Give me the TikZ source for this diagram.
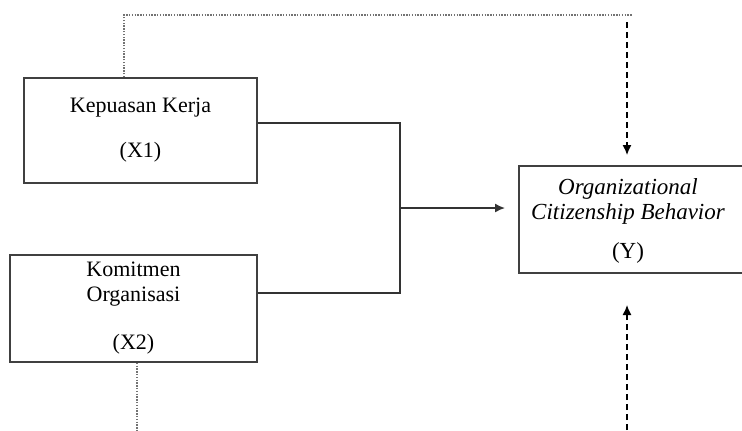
\documentclass[tikz,border=0pt]{standalone}
\usepackage{fontspec}
\setmainfont{Liberation Serif}
\usetikzlibrary{arrows.meta}
\tikzset{
  box/.style={draw=black!75, line width=0.75pt, align=center, inner sep=0pt,
    font=\fontsize{11}{12.5}\selectfont},
  link/.style={draw=black!80, line width=0.75pt},
  dotline/.style={draw=black!55, line width=0.8pt, dash pattern=on 0.7pt off 0.7pt},
  dashline/.style={draw=black, line width=0.65pt, dash pattern=on 3pt off 2pt},
  tip/.style={-{Latex[length=5pt,width=4.5pt]}}
}
\begin{document}
\begin{tikzpicture}[x=0.5pt, y=-0.5pt]
      \clip (0, 0) rectangle (742, 430);
      \node[box, minimum width=116.5pt, minimum height=52.5pt] (x1) at (140.5, 130.5)
        {Kepuasan Kerja\\[10pt](X1)};
      \node[box, minimum width=123.5pt, minimum height=53.5pt] (x2) at (133.5, 308.5)
        {Komitmen\\Organisasi\\[11.5pt](X2)};
      \node[box, minimum width=160pt, minimum height=53.5pt, anchor=north west] (ybox) at (518, 165) {};
      \node[align=center, inner sep=0pt, font=\fontsize{11.5}{12.5}\selectfont\itshape] (ytext) at (628, 221)
        {Organizational\\Citizenship Behavior\\[7pt]\normalfont(Y)};
      \coordinate (jn) at (400, 208);
      \coordinate (yin) at (505, 208);
      \coordinate (ytop) at (627, 155);
      \coordinate (ybot) at (627, 305);
      \draw[link] (x1.east |- 0, 123) -| (jn);
      \draw[link] (x2.east |- 0, 293) -| (jn);
      \draw[link, tip] (jn) -- (yin);
      \draw[dotline] (x1.north -| 124, 0) |- (632, 15);
      \draw[dashline, tip] (627, 22) -- (ytop);
      \draw[dotline] (x2.south -| 137, 0) -- (137, 430);
      \draw[dashline, tip] (627, 430) -- (ybot);
    \end{tikzpicture}
\end{document}
